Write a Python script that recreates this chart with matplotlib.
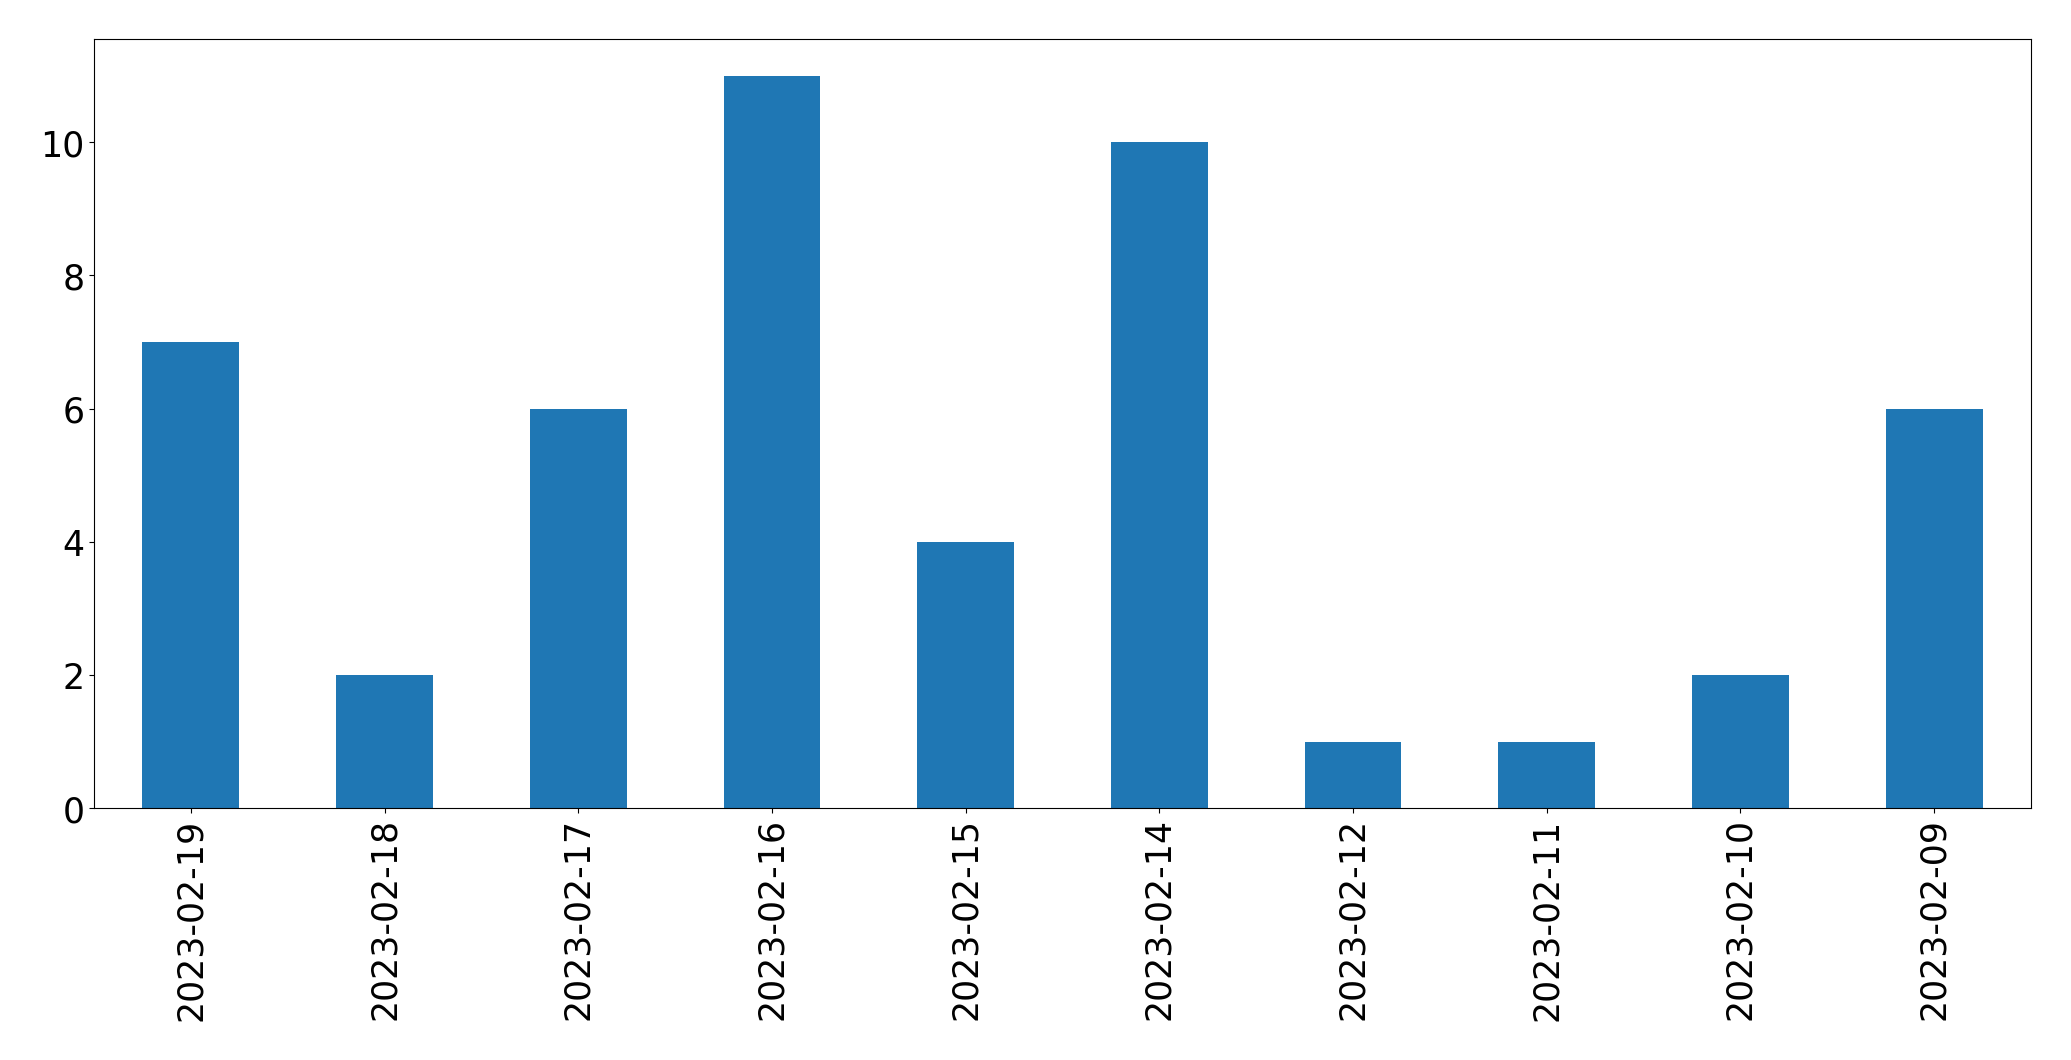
import matplotlib
matplotlib.use("Agg")
import matplotlib.pyplot as plt
import pandas as pd

dates = ["2023-02-19", "2023-02-18", "2023-02-17", "2023-02-16", "2023-02-15",
         "2023-02-14", "2023-02-12", "2023-02-11", "2023-02-10", "2023-02-09"]
counts = [7, 2, 6, 11, 4, 10, 1, 1, 2, 6]

s = pd.Series(counts, index=dates)

fig = plt.figure(figsize=(20.71, 10.605), dpi=100)
ax = fig.add_axes([94 / 2071, 1 - 809 / 1061, (2031 - 94) / 2071, (809 - 39.5) / 1061])
s.plot(kind="bar", ax=ax, color="#1f77b4", fontsize=25)

fig.savefig("out.png", dpi=100)
